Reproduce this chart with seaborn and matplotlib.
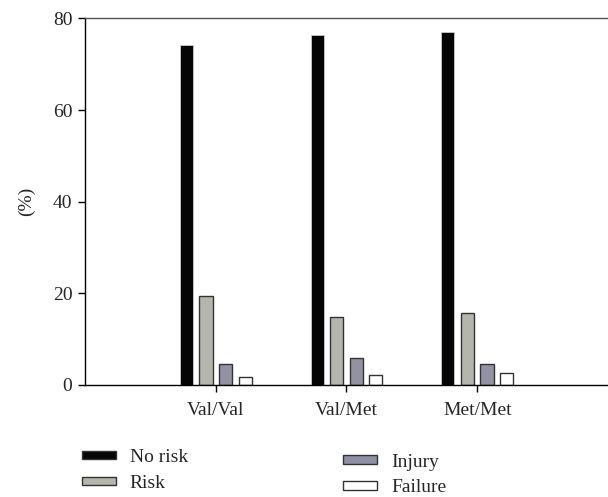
import matplotlib
matplotlib.use("Agg")
import matplotlib.pyplot as plt
import matplotlib.patches as mpatches
import pandas as pd
import seaborn as sns

genotypes = ["Val/Val", "Val/Met", "Met/Met"]
outcomes = ["No risk", "Risk", "Injury", "Failure"]
no_risk = [74.2, 76.5, 77.0]
risk = [19.5, 14.9, 15.8]
injury = [4.5, 5.8, 4.5]
failure = [1.8, 2.2, 2.7]

COLORS = {"No risk": "#050505", "Risk": "#b5b6ab", "Injury": "#8f8fa6", "Failure": "#ffffff"}

rows = []
for outcome, vals in zip(outcomes, [no_risk, risk, injury, failure]):
    for g, v in zip(genotypes, vals):
        rows.append({"genotype": g, "outcome": outcome, "pct": v})
df = pd.DataFrame(rows)

sns.set_style("white")
plt.rcParams["font.family"] = ["Liberation Serif", "DejaVu Serif"]
plt.rcParams["font.size"] = 14

fig = plt.figure(figsize=(6.08, 4.97), dpi=100)
ax = fig.add_axes([0.1398, 0.2254, 0.8602, 0.7374])

sns.barplot(data=df, x="genotype", y="pct", hue="outcome", order=genotypes,
            hue_order=outcomes, palette=COLORS, width=0.6, gap=0.33,
            edgecolor="#333333", linewidth=1.0, legend=False, ax=ax)
# black bars keep a light edge
for bar in ax.patches[:3]:
    bar.set_edgecolor("#cccccc")
    bar.set_linewidth(0.6)

ax.set_xlim(-1, 3)
ax.set_ylim(0, 80)
ax.set_yticks([0, 20, 40, 60, 80])
ax.set_xlabel("")
ax.set_ylabel("(%)", fontsize=14, labelpad=13)
ax.tick_params(axis="both", direction="out", length=5, width=1, color="black",
               labelsize=14, bottom=True, left=True, pad=4)
ax.tick_params(axis="x", pad=7)
for side in ["left", "bottom"]:
    ax.spines[side].set_color("black")
    ax.spines[side].set_linewidth(1.0)
ax.spines["top"].set_color("#555555")
ax.spines["top"].set_linewidth(1.0)
ax.spines["right"].set_visible(False)

handles = [mpatches.Patch(facecolor=COLORS[o], edgecolor="#333333", linewidth=1.0, label=o)
           for o in outcomes]
leg_kw = dict(frameon=False, handlelength=1.75, handleheight=0.3, labelspacing=0.45,
              handletextpad=0.7, fontsize=14, borderaxespad=0)
fig.legend(handles=handles[:2], loc="upper left", bbox_to_anchor=(0.122, 0.112), **leg_kw)
fig.legend(handles=handles[2:], loc="upper left", bbox_to_anchor=(0.552, 0.103), **leg_kw)

fig.savefig("out.png", dpi=100, facecolor="white")
